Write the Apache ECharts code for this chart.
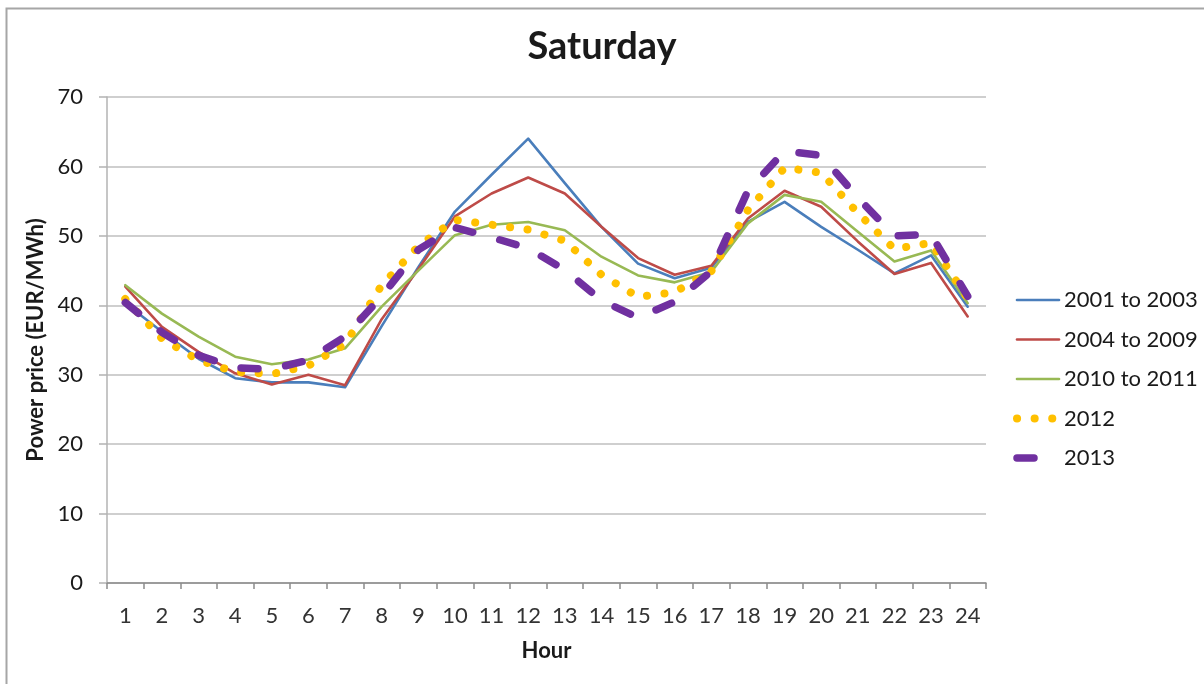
<!DOCTYPE html>
<html>
<head>
<meta charset="utf-8">
<title>Saturday</title>
<script src="https://cdn.jsdelivr.net/npm/echarts@6/dist/echarts.min.js"></script>
<style>
  html, body { margin: 0; padding: 0; background: #ffffff; }
  #chart { width: 1204px; height: 684px; }
</style>
</head>
<body>
<div id="chart"></div>
<script>
// Hour of the day (category axis)
const hours = ['1','2','3','4','5','6','7','8','9','10','11','12',
               '13','14','15','16','17','18','19','20','21','22','23','24'];

// Average Saturday power price per hour, EUR/MWh
const price2001to2003 = [40.3, 36.2, 32.3, 29.5, 28.9, 28.9, 28.2, 37.0, 45.5, 53.5, 58.8, 64.0,
                         57.6, 51.3, 46.0, 43.9, 45.4, 52.0, 54.9, 51.3, 48.0, 44.6, 47.2, 39.8];
const price2004to2009 = [42.7, 36.9, 33.3, 30.2, 28.6, 30.0, 28.5, 38.0, 45.2, 52.8, 56.1, 58.4,
                         56.1, 51.3, 46.8, 44.4, 45.7, 52.5, 56.5, 54.2, 49.2, 44.5, 46.1, 38.4];
const price2010to2011 = [42.9, 38.8, 35.5, 32.6, 31.5, 32.2, 33.8, 39.8, 45.0, 50.1, 51.6, 52.0,
                         50.8, 47.0, 44.3, 43.3, 44.8, 51.8, 55.9, 54.9, 50.6, 46.3, 47.9, 40.3];
const price2012 = [40.9, 35.2, 32.1, 30.4, 30.1, 31.3, 34.4, 42.9, 48.5, 52.3, 51.6, 50.9,
                   49.3, 44.4, 41.2, 41.9, 44.9, 53.7, 59.8, 59.1, 53.3, 48.1, 49.0, 41.0];
const price2013 = [40.4, 36.1, 32.8, 31.0, 30.8, 32.1, 35.5, 41.3, 48.0, 51.2, 49.8, 48.2,
                   45.1, 40.7, 38.2, 40.5, 44.9, 56.5, 62.2, 61.6, 55.5, 50.0, 50.2, 41.3];

// Y axis range
const yMin = 0;
const yMax = 70;
const yStep = 10;

const FONT = 'Lato, "Open Sans", sans-serif';
const TEXT = '#1a1a1a';

const chart = echarts.init(document.getElementById('chart'), null, { renderer: 'canvas' });

function solidSeries(name, data, color) {
  return {
    name: name,
    type: 'line',
    data: data,
    symbol: 'none',
    smooth: false,
    color: color,
    lineStyle: { color: color, width: 2.6, join: 'round', cap: 'round' }
  };
}

const option = {
  animation: false,
  backgroundColor: '#ffffff',
  textStyle: { fontFamily: FONT },
  graphic: [{
    type: 'rect',
    left: 4, top: 6,
    shape: { width: 1300, height: 800 },
    style: { fill: 'none', stroke: '#a6a6a6', lineWidth: 2 },
    silent: true
  }],
  title: {
    text: 'Saturday',
    left: 'center',
    top: 23,
    textStyle: { fontFamily: FONT, fontSize: 38, fontWeight: 'bold', color: TEXT }
  },
  grid: { left: 107, right: 218, top: 97, bottom: 101, containLabel: false },
  legend: {
    orient: 'vertical',
    left: 1008,
    top: 284,
    itemWidth: 42,
    itemHeight: 14,
    itemGap: 17.5,
    // legend keys show only the line pattern, no marker
    itemStyle: { opacity: 0 },
    lineStyle: { width: 'inherit' },
    textStyle: { fontFamily: FONT, fontSize: 22, color: TEXT },
    data: ['2001 to 2003', '2004 to 2009', '2010 to 2011', '2012', '2013']
  },
  xAxis: {
    type: 'category',
    data: hours,
    boundaryGap: true,
    name: 'Hour',
    nameLocation: 'middle',
    nameGap: 57,
    nameTextStyle: { fontFamily: FONT, fontSize: 22, fontWeight: 'bold', color: TEXT },
    axisLine: { show: true, lineStyle: { color: '#8c8c8c', width: 1.5 } },
    axisTick: { show: true, alignWithLabel: false, length: 6, lineStyle: { color: '#8c8c8c', width: 1.5 } },
    axisLabel: { interval: 0, margin: 22, fontFamily: FONT, fontSize: 22, color: '#333333' },
    splitLine: { show: false }
  },
  yAxis: {
    type: 'value',
    min: yMin,
    max: yMax,
    interval: yStep,
    name: 'Power price (EUR/MWh)',
    nameLocation: 'middle',
    nameGap: 48,
    nameTextStyle: { fontFamily: FONT, fontSize: 22, fontWeight: 'bold', color: TEXT },
    axisLine: { show: true, lineStyle: { color: '#b3b3b3', width: 1.5 } },
    axisTick: { show: true, length: 8, lineStyle: { color: '#b3b3b3', width: 1.5 } },
    axisLabel: { margin: 24, fontFamily: FONT, fontSize: 22, color: TEXT },
    splitLine: { show: true, lineStyle: { color: '#bfbfbf', width: 1.5 } }
  },
  series: [
    solidSeries('2001 to 2003', price2001to2003, '#4a7ebb'),
    solidSeries('2004 to 2009', price2004to2009, '#be4b48'),
    solidSeries('2010 to 2011', price2010to2011, '#98b954'),
    {
      name: '2012',
      type: 'line',
      data: price2012,
      symbol: 'none',
      color: '#ffc000',
      lineStyle: { color: '#ffc000', width: 8, type: [0.1, 17.5], cap: 'round', join: 'round' }
    },
    {
      name: '2013',
      type: 'line',
      data: price2013,
      symbol: 'none',
      color: '#7030a0',
      lineStyle: { color: '#7030a0', width: 7.5, type: [17, 28], cap: 'round', join: 'round' }
    }
  ]
};

chart.setOption(option);
</script>
</body>
</html>
